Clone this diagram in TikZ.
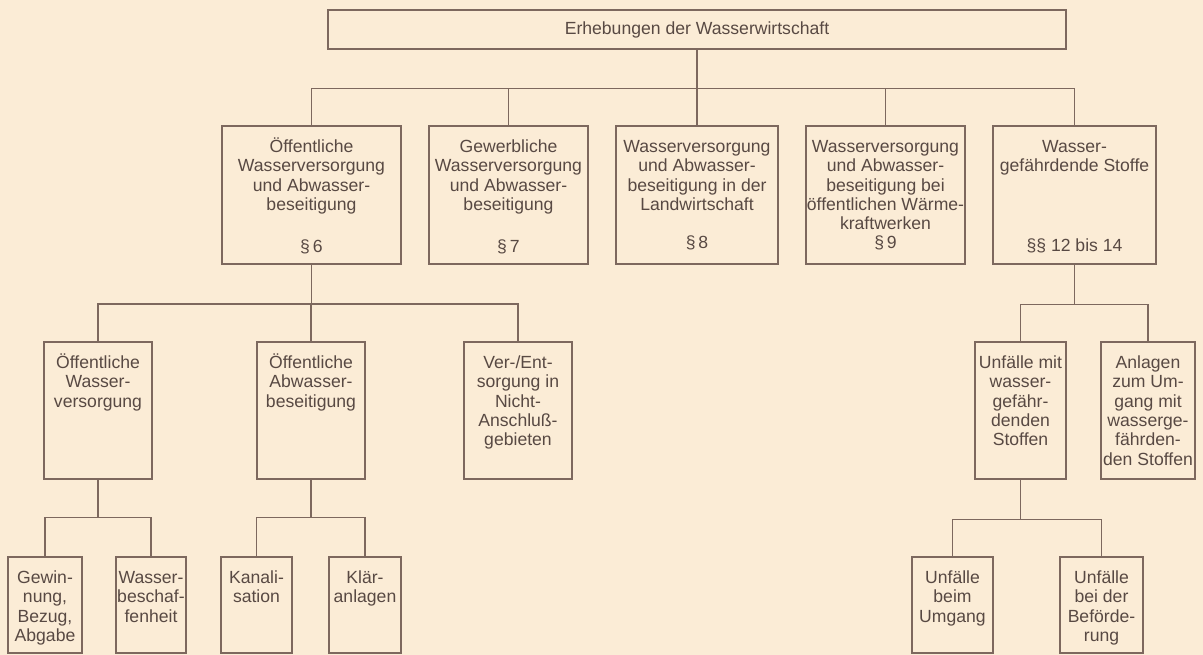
\documentclass[tikz,border=0pt]{standalone}
\usepackage{fontspec}
\setmainfont{Liberation Sans}
\usepackage{tikz}
\definecolor{papier}{RGB}{251,236,214}
\definecolor{strich}{RGB}{125,104,94}
\definecolor{schrift}{RGB}{88,73,67}
\tikzstyle{kasten}=[draw=strich, line width=1.3pt, inner sep=0pt, text=schrift, font=\fontsize{17.6pt}{19.3pt}\selectfont]
\tikzstyle{linie}=[draw=strich, line width=1.3pt]
% Kasteninhalt: Breite, Hoehe, Text (oben ausgerichtet)
\newcommand{\fach}[3]{\parbox[c][#2pt][t]{#1pt}{\centering\rule{0pt}{26.5pt}#3}}

\begin{document}
\begin{tikzpicture}[x=1pt, y=-1pt]
        \fill[papier] (0,0) rectangle (1203,655);
        \useasboundingbox (0,0) rectangle (1203,655);

        %% Oberste Ebene
        \node[kasten, minimum width=738pt, minimum height=39pt] (oben) at (697,29.5) {Erhebungen der Wasserwirtschaft};

        %% Erhebungen nach Paragraphen
        \node[kasten] (p6) at (311.5,195) {\fach{179}{138}{Öffentliche\\Wasserversorgung\\und Abwasser-\\beseitigung\\[22.4pt]§\,6}};
        \node[kasten] (p7) at (508.5,195) {\fach{159}{138}{Gewerbliche\\Wasserversorgung\\und Abwasser-\\beseitigung\\[22.4pt]§\,7}};
        \node[kasten] (p8) at (697,195) {\fach{162}{138}{Wasserversorgung\\und Abwasser-\\beseitigung in der\\Landwirtschaft\\[19.3pt]§\,8}};
        \node[kasten] (p9) at (885.5,195) {\fach{159}{138}{Wasserversorgung\\und Abwasser-\\beseitigung bei\\öffentlichen Wärme-\\kraftwerken\\§\,9}};
        \node[kasten] (p12) at (1074.5,195) {\fach{163}{138}{Wasser-\\gefährdende Stoffe\\[60.7pt]§§ 12 bis 14}};
        % Linien
        \foreach \n in {p6,p7,p8,p9,p12}
            \draw[linie] (oben.south) -- ++(0,39) -| (\n.north);

        %% Zweite Ebene
        \node[kasten] (wv) at (98,410.5) {\fach{108}{137}{Öffentliche\\Wasser-\\versorgung}};
        \node[kasten] (ab) at (311,410.5) {\fach{108}{137}{Öffentliche\\Abwasser-\\beseitigung}};
        \node[kasten] (na) at (518,410.5) {\fach{108}{137}{Ver-/Ent-\\sorgung in\\Nicht-\\Anschluß-\\gebieten}};
        \node[kasten] (unf) at (1020.5,410.5) {\fach{91}{137}{Unfälle mit\\wasser-\\gefähr-\\denden\\Stoffen}};
        \node[kasten] (anl) at (1148,410.5) {\fach{94}{137}{Anlagen\\zum Um-\\gang mit\\wasserge-\\fährden-\\den Stoffen}};
        % Linien
        \foreach \n in {wv,ab,na}
            \draw[linie] (p6.south) -- ++(0,39.5) -| (\n.north);
        \foreach \n in {unf,anl}
            \draw[linie] (p12.south) -- ++(0,40) -| (\n.north);

        %% Dritte Ebene
        \node[kasten] (gew) at (45,605) {\fach{74}{96}{Gewin-\\nung,\\Bezug,\\Abgabe}};
        \node[kasten] (bes) at (151,605) {\fach{70}{96}{Wasser-\\beschaf-\\fenheit}};
        \node[kasten] (kan) at (256.5,605) {\fach{71}{96}{Kanali-\\sation}};
        \node[kasten] (kla) at (365,605) {\fach{72}{96}{Klär-\\anlagen}};
        \node[kasten] (umg) at (952.5,605) {\fach{81}{96}{Unfälle\\beim\\Umgang}};
        \node[kasten] (bef) at (1101.5,605) {\fach{83}{96}{Unfälle\\bei der\\Beförde-\\rung}};
        % Linien
        \foreach \n in {gew,bes}
            \draw[linie] (wv.south) -- ++(0,38) -| (\n.north);
        \foreach \n in {kan,kla}
            \draw[linie] (ab.south) -- ++(0,38) -| (\n.north);
        \foreach \n in {umg,bef}
            \draw[linie] (unf.south) -- ++(0,40) -| (\n.north);
\end{tikzpicture}
\end{document}
